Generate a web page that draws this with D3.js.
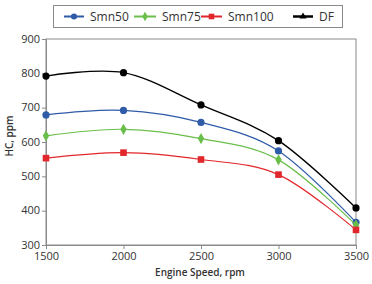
<!DOCTYPE html>
<html><head><meta charset="utf-8">
<script src="https://cdn.jsdelivr.net/npm/d3@7"></script>
<style>body{margin:0;background:#fff}svg{display:block}text{font-family:"Open Sans",sans-serif}</style>
</head><body>
<script>
const speeds = [1500, 2000, 2500, 3000, 3500];
const smn50 = [679, 692, 657, 574, 366];
const smn75 = [618, 637, 610, 548, 358];
const smn100 = [553, 569, 549, 505, 344];
const df = [792, 802, 708, 604, 408];
const yTicks = [300, 400, 500, 600, 700, 800, 900];
const xTicks = [1500, 2000, 2500, 3000, 3500];
const seriesNames = ["Smn50", "Smn75", "Smn100", "DF"];
const seriesColors = ["#2f5ba8", "#6abf4b", "#e2272c", "#000000"];
const seriesMarkers = ["circle", "diamond", "square", "circle"];
const legendMarkers = ["circle", "diamond", "square", "triangle"];
const seriesValues = [smn50, smn75, smn100, df];

const W = 372, H = 284;
const m = {l: 46, r: 16, t: 39, b: 39};
const svg = d3.select("body").append("svg").attr("width", W).attr("height", H);
const x = d3.scaleLinear().domain([1500, 3500]).range([m.l, W - m.r]);
const y = d3.scaleLinear().domain([300, 900]).range([H - m.b, m.t]);
const frame = "#8a8a8a";

svg.append("rect").attr("x", m.l).attr("y", m.t).attr("width", x(3500) - x(1500)).attr("height", y(300) - y(900))
  .attr("fill", "none").attr("stroke", frame).attr("stroke-width", 1);

const yAxis = svg.append("g").attr("transform", `translate(${m.l},0)`)
  .call(d3.axisLeft(y).tickValues(yTicks).tickSize(4).tickPadding(2).tickFormat(d3.format("d")));
const xAxis = svg.append("g").attr("transform", `translate(0,${H - m.b})`)
  .call(d3.axisBottom(x).tickValues(xTicks).tickSize(4).tickPadding(3).tickFormat(d3.format("d")));
[yAxis, xAxis].forEach(a => {
  a.select(".domain").attr("stroke", frame);
  a.selectAll(".tick line").attr("stroke", frame);
  a.selectAll(".tick text").attr("fill", "#333").style("font-size", "11px").style("font-family", "Open Sans, sans-serif");
});
yAxis.selectAll(".tick text").attr("dy", "0.3em");

svg.append("text").attr("x", (x(1500) + x(3500)) / 2 - 1).attr("y", H - 8).attr("text-anchor", "middle")
  .style("font-size", "10px").style("font-weight", 600).attr("fill", "#333").text("Engine Speed, rpm");
svg.append("text").attr("transform", `translate(13,136) rotate(-90)`).attr("text-anchor", "middle")
  .style("font-size", "10px").style("font-weight", 600).attr("fill", "#333").text("HC, ppm");

function marker(g, type, cx, cy, color, s) {
  s = s || 1;
  if (type === "circle") g.append("circle").attr("cx", cx).attr("cy", cy).attr("r", 3.6 * s).attr("fill", color);
  else if (type === "square") g.append("rect").attr("x", cx - 3.3 * s).attr("y", cy - 3.3 * s).attr("width", 6.6 * s).attr("height", 6.6 * s).attr("fill", color);
  else if (type === "diamond") g.append("path").attr("d", d3.symbol(d3.symbolDiamond, 36 * s * s)()).attr("transform", `translate(${cx},${cy})`).attr("fill", color);
  else if (type === "triangle") g.append("path").attr("d", d3.symbol(d3.symbolTriangle, 30 * s * s)()).attr("transform", `translate(${cx},${cy})`).attr("fill", color);
}

const line = d3.line().x((d, i) => x(speeds[i])).y(d => y(d)).curve(d3.curveCardinal.tension(0));
seriesValues.forEach((vals, k) => {
  const g = svg.append("g");
  g.append("path").attr("d", line(vals)).attr("fill", "none").attr("stroke", seriesColors[k]).attr("stroke-width", k === 3 ? 1.4 : 1.2);
  vals.forEach((v, i) => marker(g, seriesMarkers[k], x(speeds[i]), y(v), seriesColors[k]));
});

const lg = svg.append("g");
lg.append("rect").attr("x", 53.5).attr("y", 5.5).attr("width", 289).attr("height", 22).attr("fill", "#fff").attr("stroke", frame);
const legX = [64, 134, 201, 293];
const legW = [20, 22, 21, 20];
seriesNames.forEach((n, k) => {
  const ly = 16.5;
  lg.append("line").attr("x1", legX[k]).attr("x2", legX[k] + legW[k]).attr("y1", ly).attr("y2", ly)
    .attr("stroke", seriesColors[k]).attr("stroke-width", k === 3 ? 2.5 : 2);
  marker(lg, legendMarkers[k], legX[k] + legW[k] / 2, ly, seriesColors[k], 0.85);
  lg.append("text").attr("x", legX[k] + legW[k] + 6).attr("y", ly).attr("dy", "0.35em")
    .style("font-size", "12px").attr("fill", "#333").text(n);
});
</script>
</body></html>
